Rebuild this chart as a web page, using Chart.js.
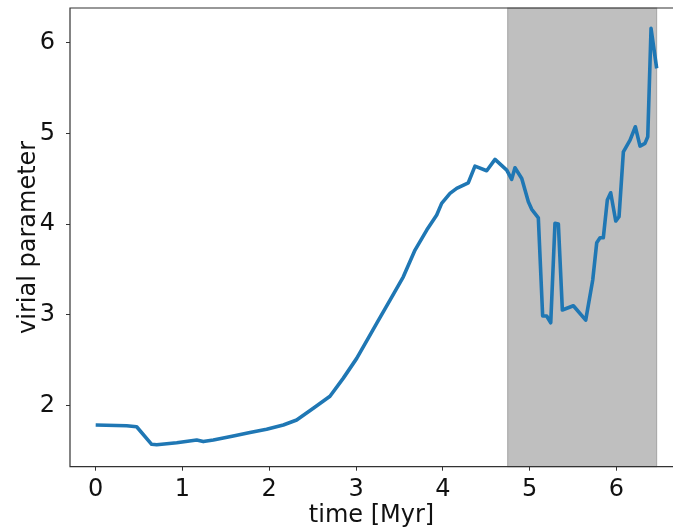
<!DOCTYPE html>
<html>
<head>
<meta charset="utf-8">
<script src="https://cdn.jsdelivr.net/npm/chart.js@4/dist/chart.umd.min.js"></script>
<style>
html,body{margin:0;padding:0;background:#fff;overflow:hidden;}
canvas{display:block;}
</style>
</head>
<body>
<canvas id="c" width="673" height="530"></canvas>
<script>
const times = [0, 0.357, 0.472, 0.645, 0.703, 0.934, 1.164, 1.24, 1.356, 1.586, 1.778, 1.97, 2.162, 2.316, 2.508, 2.70, 2.854, 3.008, 3.161, 3.238, 3.392, 3.545, 3.68, 3.815, 3.93, 3.987, 4.083, 4.16, 4.294, 4.371, 4.506, 4.602, 4.737, 4.794, 4.832, 4.91, 4.986, 5.025, 5.101, 5.151, 5.197, 5.244, 5.293, 5.332, 5.378, 5.505, 5.647, 5.728, 5.774, 5.812, 5.85, 5.896, 5.935, 5.993, 6.031, 6.081, 6.158, 6.219, 6.273, 6.33, 6.362, 6.4, 6.465];
const virial = [1.783, 1.775, 1.764, 1.57, 1.565, 1.588, 1.617, 1.60, 1.617, 1.661, 1.70, 1.735, 1.783, 1.838, 1.967, 2.10, 2.30, 2.518, 2.775, 2.904, 3.161, 3.418, 3.713, 3.933, 4.099, 4.228, 4.338, 4.393, 4.455, 4.639, 4.588, 4.713, 4.595, 4.493, 4.621, 4.503, 4.245, 4.162, 4.069, 2.985, 2.985, 2.911, 4.007, 4.00, 3.051, 3.098, 2.94, 3.382, 3.794, 3.849, 3.849, 4.264, 4.345, 4.033, 4.08, 4.797, 4.926, 5.073, 4.86, 4.89, 4.962, 6.158, 5.717];
const xTicks = [0, 1, 2, 3, 4, 5, 6];
const yTicks = [2, 3, 4, 5, 6];
const shadeStart = 4.748;
const shadeEnd = 6.465;
const xLimits = [-0.296, 6.653];
const yLimits = [1.323, 6.383];
const xLabel = 'time [Myr]';
const yLabel = 'virial parameter';

const FONT = "'DejaVu Sans', sans-serif";

const shadePlugin = {
  id: 'shade',
  beforeDatasetsDraw(chart) {
    const {ctx, chartArea, scales} = chart;
    const x0 = scales.x.getPixelForValue(shadeStart);
    const x1 = scales.x.getPixelForValue(shadeEnd);
    ctx.save();
    ctx.fillStyle = '#bfbfbf';
    ctx.fillRect(x0, chartArea.top, x1 - x0, chartArea.bottom - chartArea.top);
    ctx.strokeStyle = 'rgba(128,128,128,0.6)';
    ctx.lineWidth = 1;
    ctx.strokeRect(x0, chartArea.top, x1 - x0, chartArea.bottom - chartArea.top);
    ctx.restore();
  },
  afterDatasetsDraw(chart) {
    const {ctx, chartArea} = chart;
    ctx.save();
    ctx.strokeStyle = '#333';
    ctx.lineWidth = 1.2;
    ctx.beginPath();
    ctx.moveTo(chartArea.right + 2, chartArea.top);
    ctx.lineTo(chartArea.left, chartArea.top);
    ctx.lineTo(chartArea.left, chartArea.bottom);
    ctx.lineTo(chartArea.right + 2, chartArea.bottom);
    ctx.stroke();
    ctx.restore();
  }
};

new Chart(document.getElementById('c'), {
  type: 'line',
  data: {
    datasets: [{
      data: times.map((t, i) => ({x: t, y: virial[i]})),
      borderColor: '#1f77b4',
      borderWidth: 3.6,
      pointRadius: 0,
      tension: 0,
      fill: false,
      borderJoinStyle: 'round',
      borderCapStyle: 'butt'
    }]
  },
  options: {
    responsive: false,
    animation: false,
    events: [],
    layout: {padding: {left: 0, right: 0, top: 8, bottom: 0}},
    plugins: {legend: {display: false}, tooltip: {enabled: false}},
    scales: {
      x: {
        type: 'linear',
        min: xLimits[0],
        max: xLimits[1],
        afterBuildTicks: s => { s.ticks = xTicks.map(v => ({value: v})); },
        afterFit: s => { s.height = 63.3; s.paddingLeft = 0; s.paddingRight = 0; },
        grid: {display: true, drawOnChartArea: false, drawTicks: true, tickLength: 4, color: '#333', tickColor: '#333'},
        border: {display: false},
        ticks: {font: {family: FONT, size: 24}, color: '#111', padding: 5, maxRotation: 0, autoSkip: false},
        title: {display: true, text: xLabel, font: {family: FONT, size: 24}, color: '#111', padding: {top: 0, bottom: 0}}
      },
      y: {
        type: 'linear',
        min: yLimits[0],
        max: yLimits[1],
        afterBuildTicks: s => { s.ticks = yTicks.map(v => ({value: v})); },
        afterFit: s => { s.width = 70; s.paddingTop = 0; s.paddingBottom = 0; },
        grid: {display: true, drawOnChartArea: false, drawTicks: true, tickLength: 4, color: '#333', tickColor: '#333'},
        border: {display: false},
        ticks: {font: {family: FONT, size: 24}, color: '#111', padding: 11, autoSkip: false},
        title: {display: true, text: yLabel, font: {family: FONT, size: 24}, color: '#111', padding: {top: 14, bottom: 0}}
      }
    }
  },
  plugins: [shadePlugin]
});
</script>
</body>
</html>
